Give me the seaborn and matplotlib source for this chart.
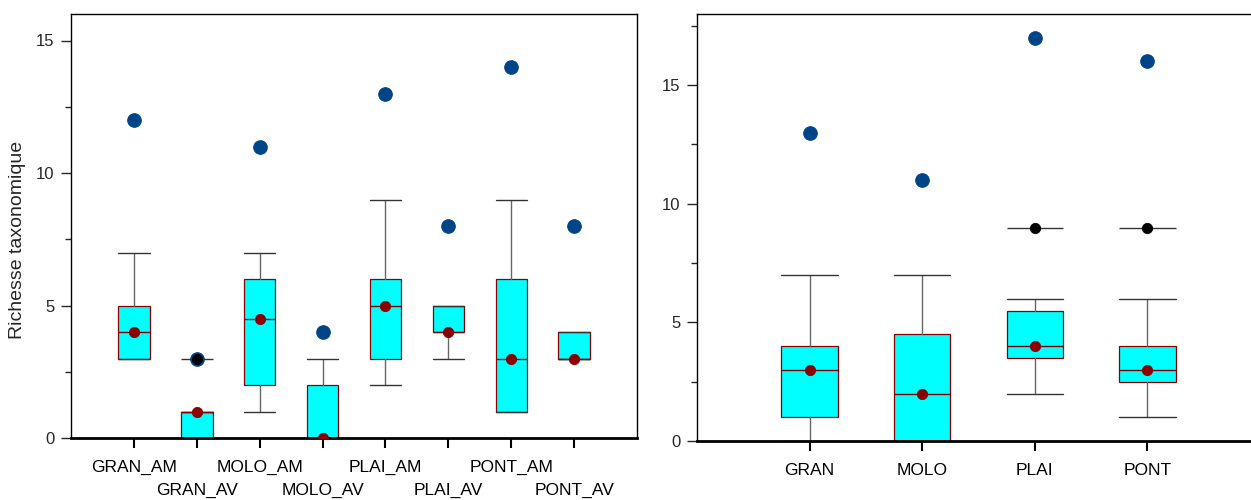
import matplotlib
matplotlib.use("Agg")
import matplotlib.pyplot as plt
import seaborn as sns
import numpy as np
import pandas as pd
from matplotlib.ticker import MultipleLocator

# données
sites_ammav = ["GRAN_AM", "GRAN_AV", "MOLO_AM", "MOLO_AV", "PLAI_AM", "PLAI_AV", "PONT_AM", "PONT_AV"]
q1_a = [3, 0, 2, 0, 3, 4, 1, 3]
med_a = [4, 1, 4.5, 0, 5, 4, 3, 3]
q3_a = [5, 1, 6, 2, 6, 5, 6, 4]
wlo_a = [3, 0, 1, 0, 2, 3, 1, 3]
whi_a = [7, 1, 7, 3, 9, 5, 9, 4]
out_a = [np.nan, 3, np.nan, np.nan, np.nan, np.nan, np.nan, np.nan]
max_a = [12, 3, 11, 4, 13, 8, 14, 8]

sites = ["GRAN", "MOLO", "PLAI", "PONT"]
q1_s = [1, 0, 3.5, 2.5]
med_s = [3, 2, 4, 3]
q3_s = [4, 4.5, 5.5, 4]
wlo_s = [0, 0, 2, 1]
whi_s = [7, 7, 6, 6]
out_s = [np.nan, np.nan, 9, 9]
max_s = [13, 11, 17, 16]

CYAN = "#00FFFF"
ROUGE = "#8B0000"
BLEU = "#004488"

sns.set_style("ticks")
plt.rcParams['font.family'] = ['Liberation Sans', 'DejaVu Sans']
plt.rcParams['font.size'] = 12


def boite(ax, noms, q1, med, q3, wlo, whi, out, mx, ymax):
    pos = np.arange(len(noms))
    stats = []
    for i in range(len(noms)):
        stats.append(dict(q1=q1[i], med=med[i], q3=q3[i], whislo=wlo[i], whishi=whi[i], fliers=[]))
    ax.bxp(stats, positions=pos, widths=0.5, capwidths=0.5, patch_artist=True, showfliers=False,
           boxprops=dict(facecolor=CYAN, edgecolor=ROUGE, linewidth=0.9),
           medianprops=dict(color=ROUGE, linewidth=1.0),
           whiskerprops=dict(color="#666666", linewidth=1.0),
           capprops=dict(color="#333333", linewidth=1.0))
    df = pd.DataFrame({"x": pos, "med": med, "out": out, "max": mx})
    # maximum
    sns.scatterplot(data=df, x="x", y="max", ax=ax, color=BLEU, s=95, edgecolor=BLEU, zorder=5)
    # valeurs extrêmes
    d2 = df.dropna(subset=["out"])
    ax.hlines(d2["out"], d2["x"] - 0.25, d2["x"] + 0.25, color="#333333", linewidth=1.0, zorder=4)
    sns.scatterplot(data=d2, x="x", y="out", ax=ax, color="black", s=55, edgecolor="black", zorder=6)
    # médiane
    sns.scatterplot(data=df, x="x", y="med", ax=ax, color=ROUGE, s=55, edgecolor=ROUGE, zorder=6)

    ax.set_xlim(-1, len(noms))
    ax.set_ylim(0, ymax)
    ax.set_xticks(pos)
    ax.yaxis.set_major_locator(MultipleLocator(5))
    ax.yaxis.set_minor_locator(MultipleLocator(2.5))
    ax.tick_params(axis="x", length=7, width=1.5, pad=9, labelsize=12.5, colors="black")
    ax.tick_params(axis="y", which="major", length=7, width=1, pad=5, labelsize=12)
    ax.tick_params(axis="y", which="minor", length=4, width=1)
    for s in ["top", "left", "right"]:
        ax.spines[s].set_visible(True)
        ax.spines[s].set_linewidth(1.0)
        ax.spines[s].set_color("black")
    ax.spines["bottom"].set_linewidth(2.0)
    ax.spines["bottom"].set_color("black")
    ax.set_xlabel("")
    ax.set_ylabel("")


fig = plt.figure(figsize=(12.51, 5), dpi=100)
ax1 = fig.add_axes([71 / 1251, 62 / 500, 566 / 1251, 424 / 500])
ax2 = fig.add_axes([697 / 1251, 59 / 500, 563 / 1251, 427 / 500])

boite(ax1, sites_ammav, q1_a, med_a, q3_a, wlo_a, whi_a, out_a, max_a, 16)
ax1.set_xticklabels(sites_ammav)
for t in ax1.xaxis.get_major_ticks()[1::2]:
    t.set_pad(25)
ax1.set_ylabel("Richesse taxonomique", fontsize=14)
ax1.yaxis.set_label_coords(-0.08, 0.467)

boite(ax2, sites, q1_s, med_s, q3_s, wlo_s, whi_s, out_s, max_s, 18)
ax2.set_xticklabels(sites)

plt.savefig("out.png", dpi=100)
